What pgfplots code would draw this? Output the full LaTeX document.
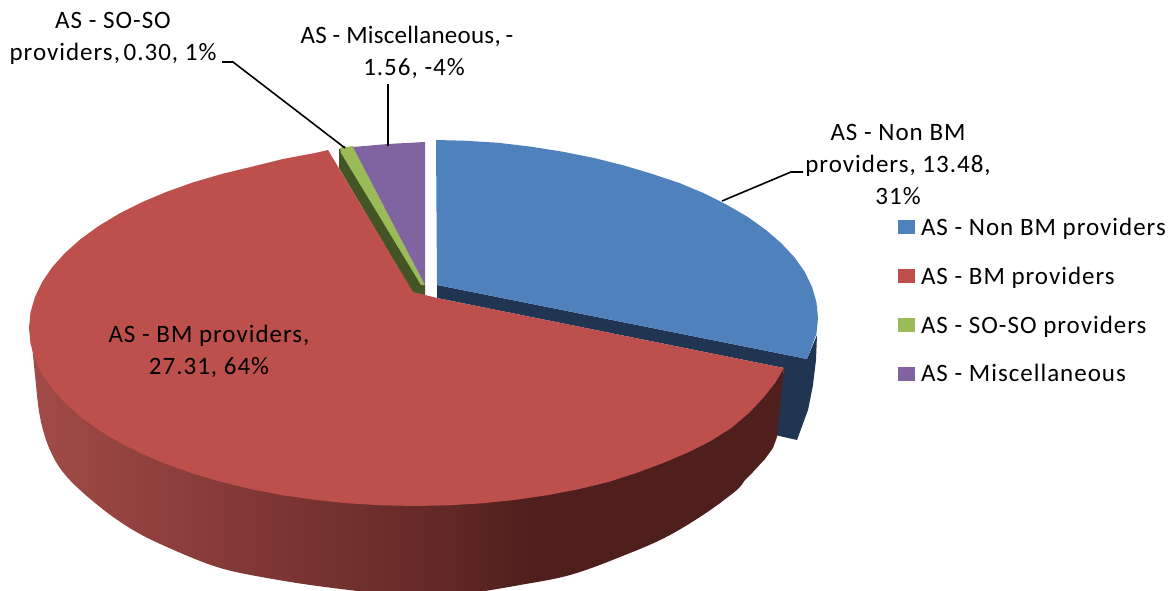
\documentclass[border=0pt]{standalone}
\usepackage{fontspec}
\setmainfont[LetterSpace=4]{Carlito}
\usepackage{pgfplots}
\pgfplotsset{compat=1.18}
\definecolor{blueT}{HTML}{4F81BD}
\definecolor{blueS}{HTML}{1F3552}
\definecolor{redT}{HTML}{BD4F4C}
\definecolor{greenT}{HTML}{9BBB59}
\definecolor{greenS}{HTML}{435425}
\definecolor{purpleT}{HTML}{8064A2}
\definecolor{sideA}{HTML}{A24B48}
\definecolor{sideM}{HTML}{692B29}
\definecolor{sideD}{HTML}{4E1F1D}
\pgfdeclarehorizontalshading{redside}{100bp}{color(0bp)=(sideA); color(25bp)=(sideA); color(51bp)=(sideM); color(60bp)=(sideD); color(100bp)=(sideD)}
\newcommand{\lblsize}{\fontsize{25}{32}\selectfont}
\begin{document}
\begin{tikzpicture}
\path[use as bounding box] (0,0) rectangle (1168pt,591pt);
\begin{axis}[
  scale only axis, width=1168pt, height=591pt,
  xmin=0, xmax=1168, ymin=0, ymax=591, y dir=reverse,
  hide axis,
  legend style={at={(axis cs:898,218)}, anchor=north west, draw=none, fill=none,
    inner sep=0pt, outer sep=0pt, font=\lblsize, row sep=30pt,
    nodes={inner sep=0pt, outer sep=0pt}},
  legend cell align=left,
  legend image code/.code={\path[#1] (0pt,-7pt) rectangle (17pt,7pt);},
]
% dark blue side of the exploded slice
\addplot[forget plot, fill=blueS, draw=none] coordinates {
 (437,285)(807,359)(817,335)(816,360)(813,385)(808,410)(797,440)(775,435)(784,368)(437,298)} --cycle;
% blue top
\addplot[forget plot, fill=blueT, draw=none] coordinates {
 (436,140)(463.8,140.7)(497.4,142.7)(530.4,146.6)(562.7,151.7)(594,158)(624,165.5)(652.5,174)(679.4,183)(704.4,193.5)(727.2,205)(747.8,217)(766,230)(781.6,243.5)(794.6,257.5)(804.8,271.9)(812.1,287.1)(816.5,302.5)(818,318)(816.5,333.5)(807,359)(437,285)} --cycle;
% green side and top
\addplot[forget plot, fill=greenS, draw=none] coordinates {
 (339,149)(345,146)(425,285)(425,297)(413,293)(339,168)} --cycle;
\addplot[forget plot, fill=greenT, draw=none] coordinates {
 (340,148)(353,146)(425,285)(421,285)(341,153)} --cycle;
% purple top
\addplot[forget plot, fill=purpleT, draw=none] coordinates {
 (353,147)(388,144)(425,142)(425,285)} --cycle;
% red side
\addplot[forget plot, draw=none, shade, shading=redside, smooth, tension=0.6] coordinates {
 (29,325)(32,345)(35,375)(40,417)(50,450)(67,477)(100,507)(133,530)(167,547)(217,567)(267,578)(333,588)(420,597)(470,593)(520,585)(570,575)(620,557)(670,535)(720,503)(745,478)(730,450)(600,430)(420,420)(100,380)} --cycle;
\addplot[forget plot, fill=sideD, draw=none] coordinates {
 (690,420)(700,515)(720,503)(737,488)(753,472)(765,459)(773,448)(777,437)(784,368)} --cycle;
% red top
\addplot[forget plot, fill=redT, draw=none] coordinates {
 (328,150)(315,153)(283,159)(251.9,166.7)(222,173.9)(193.6,182.2)(166.9,191.7)(142.1,202.1)(119.3,213.6)(98.8,225.9)(80.7,239)(65.2,252.8)(52.3,267.1)(42.2,281.9)(34.9,297.1)(30.5,312.5)(29,328)(30.5,343.5)(34.9,358.9)(42.2,374.1)(52.3,388.9)(65.2,403.2)(80.7,417)(98.8,430.1)(119.3,442.4)(142.1,453.9)(166.9,464.3)(193.6,473.8)(222,482.1)(251.9,489.3)(283,495.3)(315.1,499.9)(347.8,503.3)(381.4,505.3)(415,506)(448.6,505.3)(482,503.3)(514.9,499.9)(547,495.3)(578.1,489.3)(608,482.1)(636.4,473)(663.1,463)(687.9,452.5)(710.7,441)(731.2,428)(749,413)(764,397)(775,383)(784,368)(437,298)(413,292)} --cycle;
% leader lines
\addplot[forget plot, black, line width=1.6pt] coordinates {(222,62)(233,62)(345,148)};
\addplot[forget plot, black, line width=1.6pt] coordinates {(388,84)(388,146)};
\addplot[forget plot, black, line width=1.6pt] coordinates {(722,201)(791,172)(803,172)};
% legend
\addlegendimage{fill=blueT, draw=none}
\addlegendentry{\hspace{6pt}AS - Non BM providers}
\addlegendimage{fill=redT, draw=none}
\addlegendentry{\hspace{6pt}AS - BM providers}
\addlegendimage{fill=greenT, draw=none}
\addlegendentry{\hspace{6pt}AS - SO-SO providers}
\addlegendimage{fill=purpleT, draw=none}
\addlegendentry{\hspace{6pt}AS - Miscellaneous}
% data labels
\node[font=\lblsize, align=center] at (axis cs:113,38) {AS - SO-SO\\providers,\hspace{-3pt} 0.30, 1\%};
\node[font=\lblsize, align=center] at (axis cs:407,52) {\addfontfeature{LetterSpace=1}AS - Miscellaneous,\hspace{-1pt} -\\\addfontfeature{LetterSpace=4}\hspace*{14pt}1.56, -4\%};
\node[font=\lblsize, align=center] at (axis cs:898,164) {AS - Non BM\\providers, 13.48,\\31\%};
\node[font=\lblsize, align=center] at (axis cs:209,351) {AS - BM providers,\\27.31, 64\%};
\end{axis}
\end{tikzpicture}
\end{document}
